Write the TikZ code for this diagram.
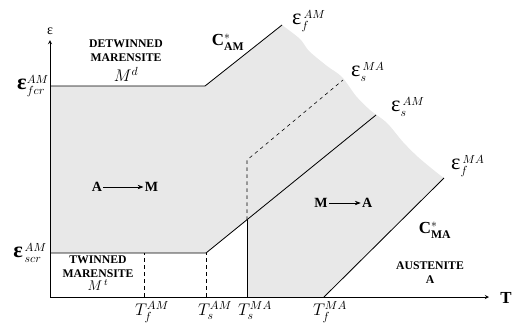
\documentclass[tikz,border=0pt]{standalone}
\usepackage{fontspec}
\setmainfont{Liberation Serif}
\usepackage{amsmath}
\usetikzlibrary{arrows.meta, positioning, calc}

\newcommand{\bigeps}{\mbox{\fontsize{19}{19}\selectfont ε}}
\newcommand{\bigbeps}{\mbox{\fontsize{19}{19}\selectfont\bfseries ε}}

\begin{document}
\begin{tikzpicture}[
    x=0.03cm, y=-0.03cm,
    axis/.style={->, line width=0.6pt, >=stealth},
    bound/.style={line width=0.7pt},
    guide/.style={dashed, line width=0.5pt},
    region/.style={fill=black!9, draw=none},
    phasetext/.style={font=\bfseries\normalsize, align=center, inner sep=0pt},
    eplabel/.style={font=\Large, anchor=west, inner sep=0pt},
    tlabel/.style={font=\Large, anchor=north, inner sep=0pt},
    bigtext/.style={font=\bfseries\large, inner sep=1pt},
    arrow/.style={-{Stealth[length=5pt]}, line width=0.6pt}
]
\useasboundingbox (0,0) rectangle (512,322);

% ========== PUNTOS ==========
\coordinate (orig) at (50,297);
\coordinate (ytop) at (50,40);
\coordinate (xend) at (489,297);

\coordinate (fcrL) at (50,86);
\coordinate (fcrK) at (205,86);
\coordinate (efAM) at (282,25);

\coordinate (scrL) at (50,253);
\coordinate (scrK) at (206,253);
\coordinate (esAM) at (376,115);

\coordinate (TfAM) at (144,297);
\coordinate (TfAMt) at (144,253);
\coordinate (TsAM) at (206,297);

\coordinate (TsMA) at (247,297);
\coordinate (TsMAk) at (247,220);
\coordinate (TsMAd) at (247,160);
\coordinate (esMA) at (343,80);

\coordinate (TfMA) at (324,297);
\coordinate (efMA) at (444,178);

% ========== ZONA DE TRANSFORMACION ==========
\fill[region] (fcrL) -- (fcrK) -- (efAM)
    -- plot[smooth] coordinates {(282,25) (300,39) (309,51) (327,66) (342,77)
        (356,96) (370,110) (387,123) (403,142) (418,157) (436,172) (444,178)}
    -- (TfMA) -- (TsMA) -- (TsMAk) -- (scrK) -- (scrL) -- cycle;

% Lineas C*
\draw[bound] (fcrL) -- (fcrK) -- (efAM);
\draw[bound] (scrL) -- (scrK) -- (esAM);
\draw[bound] (TsMA) -- (TsMAk);
\draw[guide] (TsMAk) -- (TsMAd) -- (esMA);
\draw[bound] (TfMA) -- (efMA);
\draw[guide] (TfAM) -- (TfAMt);
\draw[guide] (TsAM) -- (scrK);

% Ejes
\draw[axis] (orig) -- (ytop);
\draw[axis] (orig) -- (xend);
\node[font=\large, above=1pt of ytop] (epsaxis) {ε};
\node[font=\bfseries\Large] (Taxis) at (506,298) {T};

% ========== ETIQUETAS ==========
\node[font=\Large, anchor=east, inner sep=0pt] (lfcr) at (49,86) {$\bigbeps^{AM}_{fcr}$};
\node[font=\Large, anchor=east, inner sep=0pt] (lscr) at (47,253) {$\bigbeps^{\,AM}_{\,scr}$};

\node[eplabel] (lefAM) at (292,21) {$\bigeps^{\,AM}_{f}$};
\node[eplabel] (lesMA) at (351,72) {$\bigeps^{\,MA}_{s}$};
\node[eplabel] (lesAM) at (391,107) {$\bigeps^{\,AM}_{s}$};
\node[eplabel] (lefMA) at (451,166) {$\bigeps^{\,MA}_{f}$};

\node[tlabel] (lTfAM) at (152,301) {$T^{AM}_{f}$};
\node[tlabel] (lTsAM) at (215,301) {$T^{AM}_{s}$};
\node[tlabel] (lTsMA) at (255,301) {$T^{MA}_{s}$};
\node[tlabel] (lTfMA) at (330,301) {$T^{MA}_{f}$};

\node[font=\Large] (cAM) at (228,42) {$\text{\bfseries C}^{*}_{\textbf{AM}}$};
\node[font=\Large] (cMA) at (435,230) {$\text{\bfseries C}^{*}_{\textbf{MA}}$};

% Fases
\node[phasetext] (detw) at (126,51) {DETWINNED\\MARENSITE};
\node[font=\Large, below=1pt of detw] (Md) {$M^{d}$};
\node[phasetext] (tw) at (98,267) {TWINNED\\MARENSITE};
\node[font=\large, below=0pt of tw, inner sep=1pt] (Mt) {$M^{\,t}$};
\node[phasetext] (aus) at (430,273) {AUSTENITE\\A};

\node[bigtext] (amA) at (97,187) {A};
\node[bigtext, right=1.2cm of amA] (amM) {M};
\draw[arrow] (amA) -- (amM);

\node[bigtext] (maM) at (321,203) {M};
\node[bigtext, right=0.95cm of maM] (maA) {A};
\draw[arrow] (maM) -- (maA);

\end{tikzpicture}
\end{document}
